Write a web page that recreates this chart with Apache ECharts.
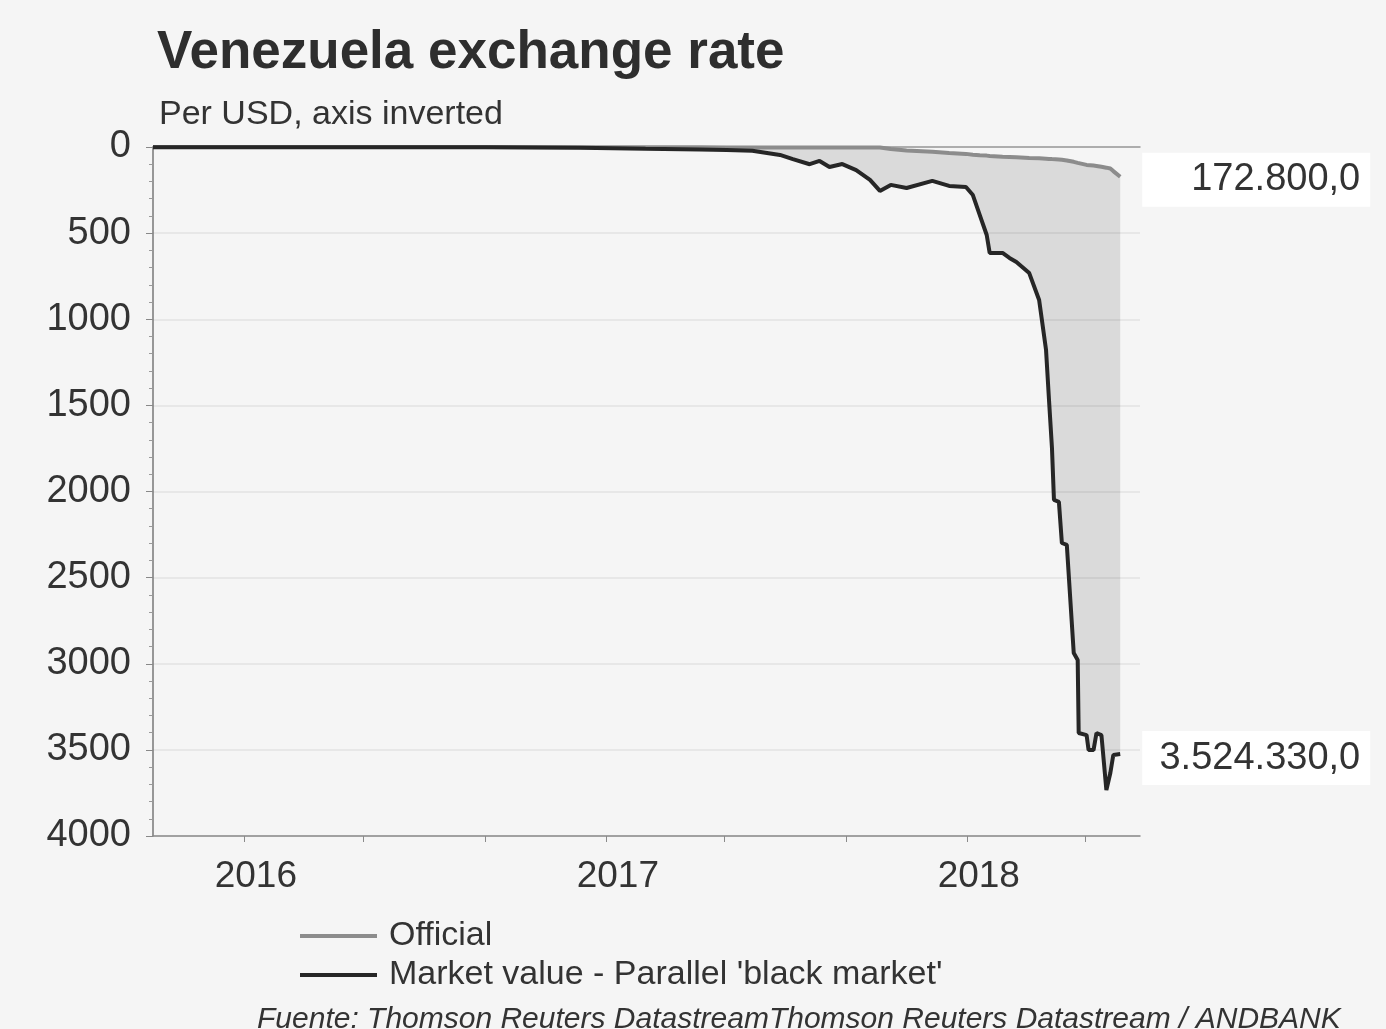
<!DOCTYPE html>
<html>
<head>
<meta charset="utf-8">
<script src="https://cdn.jsdelivr.net/npm/echarts@6/dist/echarts.min.js"></script>
<style>
  html, body { margin: 0; padding: 0; background: #f5f5f5; }
  #chart { width: 1386px; height: 1029px; }
</style>
</head>
<body>
<div id="chart"></div>
<script>
// weekly-ish readings, per USD in thousands (axis inverted)
const dates = ['2015-10-01', '2016-01-01', '2016-05-01', '2016-09-01', '2016-12-06',
  '2017-02-10', '2017-04-06', '2017-05-03', '2017-05-29', '2017-06-26',
  '2017-07-09', '2017-07-26', '2017-08-05', '2017-08-15', '2017-08-28',
  '2017-09-11', '2017-09-25', '2017-10-05', '2017-10-16', '2017-11-01',
  '2017-11-27', '2017-12-14', '2017-12-31', '2018-01-07', '2018-01-14',
  '2018-01-21', '2018-01-24', '2018-02-06', '2018-02-13', '2018-02-20',
  '2018-03-05', '2018-03-15', '2018-03-22', '2018-03-25', '2018-03-28',
  '2018-03-30', '2018-04-04', '2018-04-07', '2018-04-12', '2018-04-19',
  '2018-04-23', '2018-04-24', '2018-05-02', '2018-05-04', '2018-05-09',
  '2018-05-12', '2018-05-17', '2018-05-22', '2018-05-26', '2018-05-29', '2018-06-05']

const official = [0.5, 0.5, 0.5, 0.5, 1,
  2, 2, 3, 3, 3,
  3, 3, 3, 3, 3,
  3, 3, 3, 12, 20,
  28, 35, 40, 45, 48,
  50, 52, 56, 58, 60,
  64, 66, 68, 69, 70,
  70, 72, 74, 78, 86,
  92, 95, 104, 105, 108,
  110, 115, 120, 125, 140, 172.8]

const market = [1, 1, 1, 2, 4,
  10, 14, 18, 22, 46,
  70, 100, 81, 116, 99,
  134, 191, 255, 220, 238,
  197, 226, 232, 279, 395,
  511, 615, 615, 644, 668,
  732, 888, 1179, 1469, 1750,
  2049, 2060, 2299, 2310, 2938,
  2978, 3402, 3414, 3501, 3501,
  3402, 3414, 3733, 3634, 3530, 3524.33]

const yTicks = [0, 500, 1000, 1500, 2000, 2500, 3000, 3500, 4000]
const officialLabel = '172.800,0'
const marketLabel = '3.524.330,0'
const officialName = 'Official'
const marketName = "Market value - Parallel 'black market'"

// x axis: ticks every 4 months, year labels near january
const tickDates = ['2016-01-01', '2016-05-01', '2016-09-01', '2017-01-01', '2017-05-01', '2017-09-01', '2018-01-01', '2018-05-01']
const labelDates = ['2016-01-13', '2017-01-13', '2018-01-13']
const xRange = ['2015-10-01', '2018-06-25']

function toTime (s) {
  let p = s.split('-')
  return Date.UTC(+p[0], +p[1] - 1, +p[2])
}

const band = market.map((v, i) => v - official[i])
const pair = (arr) => arr.map((v, i) => [toTime(dates[i]), v])

var myChart = echarts.init(document.getElementById('chart'))

const xMin = toTime(xRange[0])
const xMax = toTime(xRange[1])

let option = {
  backgroundColor: '#f5f5f5',
  animation: false,
  title: [
    {
      text: 'Venezuela exchange rate',
      left: 152, top: 22,
      textStyle: { fontFamily: 'Liberation Sans', fontSize: 53, fontWeight: 'bold', color: '#2e2e2e' }
    },
    {
      text: 'Per USD, axis inverted',
      left: 154, top: 93,
      textStyle: { fontFamily: 'Liberation Sans', fontSize: 34, fontWeight: 'normal', color: '#333' }
    },
    {
      text: 'Fuente: Thomson Reuters DatastreamThomson Reuters Datastream / ANDBANK',
      left: 252, top: 1000,
      textStyle: { fontFamily: 'Liberation Sans', fontSize: 30, fontStyle: 'italic', fontWeight: 'normal', color: '#333' }
    }
  ],
  legend: {
    orient: 'vertical',
    left: 295, top: 914,
    icon: 'rect',
    itemWidth: 77, itemHeight: 4,
    itemGap: 5,
    data: [officialName, marketName],
    textStyle: { fontFamily: 'Liberation Sans', fontSize: 34, color: '#333', lineHeight: 34, padding: [0, 0, 0, 7] }
  },
  grid: { left: 153, top: 147, right: 246, bottom: 193 },
  xAxis: [
    {
      // time axis carrying the series (keeps stacking on the y values)
      type: 'time',
      min: xMin, max: xMax,
      axisLine: { show: false },
      axisTick: { show: false },
      axisLabel: { show: false },
      splitLine: { show: false }
    },
    {
      // visible bottom axis with 4-month ticks
      type: 'value',
      min: xMin, max: xMax,
      position: 'bottom',
      axisLine: { onZero: false, lineStyle: { color: '#8a8a8a', width: 1.5 } },
      axisTick: { show: true, length: 6, customValues: tickDates.map(toTime), lineStyle: { color: '#8a8a8a' } },
      axisLabel: {
        customValues: labelDates.map(toTime),
        hideOverlap: false,
        margin: 22,
        fontFamily: 'Liberation Sans', fontSize: 37, color: '#333',
        formatter: (v) => String(new Date(v).getUTCFullYear())
      },
      splitLine: { show: false }
    },
    {
      type: 'value',
      min: xMin, max: xMax,
      position: 'top',
      axisLine: { onZero: false, lineStyle: { color: '#9a9a9a', width: 1.5 } },
      axisTick: { show: false },
      axisLabel: { show: false },
      splitLine: { show: false }
    }
  ],
  yAxis: {
    type: 'value',
    inverse: true,
    min: yTicks[0], max: yTicks[yTicks.length - 1], interval: 500,
    axisLine: { show: true, lineStyle: { color: '#777', width: 1.5 } },
    axisTick: { show: true, length: 7, lineStyle: { color: '#888' } },
    minorTick: { show: true, splitNumber: 5, length: 4, lineStyle: { color: '#999' } },
    axisLabel: { margin: 22, fontFamily: 'Liberation Sans', fontSize: 38, color: '#333', formatter: (v) => String(v) },
    splitLine: { show: true, lineStyle: { color: '#e2e2e2', width: 1.5 } }
  },
  series: [
    {
      name: 'bandBase',
      type: 'line',
      stack: 'band',
      data: pair(official),
      symbol: 'none',
      silent: true,
      lineStyle: { width: 0, opacity: 0 }
    },
    {
      name: 'bandFill',
      type: 'line',
      stack: 'band',
      data: pair(band),
      symbol: 'none',
      silent: true,
      lineStyle: { width: 0, opacity: 0 },
      areaStyle: { color: '#000', opacity: 0.11 }
    },
    {
      name: officialName,
      type: 'line',
      data: pair(official),
      symbol: 'none',
      color: '#8c8c8c',
      lineStyle: { color: '#8c8c8c', width: 4 },
      endLabel: {
        show: true,
        distance: 22,
        offset: [0, 3],
        formatter: '{a|' + officialLabel + '}',
        backgroundColor: '#fff',
        padding: [8, 10, 8, 10],
        rich: { a: { width: 208, align: 'right', fontFamily: 'Liberation Sans', fontSize: 38, color: '#333' } }
      }
    },
    {
      name: marketName,
      type: 'line',
      data: pair(market),
      symbol: 'none',
      color: '#262626',
      lineStyle: { color: '#262626', width: 4 },
      endLabel: {
        show: true,
        distance: 22,
        offset: [0, 4],
        formatter: '{a|' + marketLabel + '}',
        backgroundColor: '#fff',
        padding: [8, 10, 8, 10],
        rich: { a: { width: 208, align: 'right', fontFamily: 'Liberation Sans', fontSize: 38, color: '#333' } }
      }
    }
  ]
}

myChart.setOption(option)
</script>
</body>
</html>
